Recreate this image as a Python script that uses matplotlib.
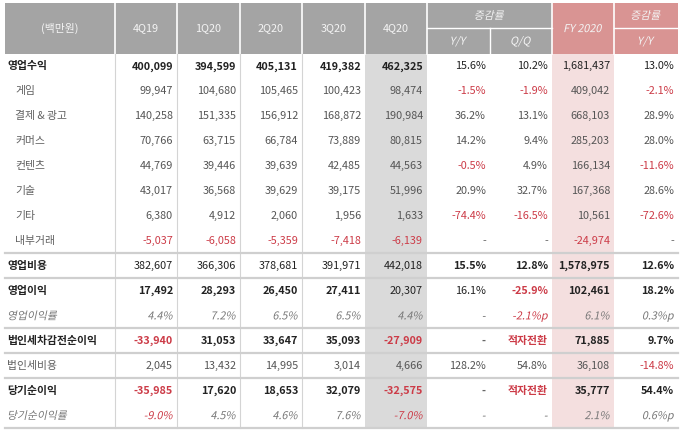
import matplotlib
matplotlib.use('Agg')
import matplotlib.pyplot as plt
from matplotlib.patches import Rectangle, PathPatch
from matplotlib.textpath import TextPath
from matplotlib.font_manager import FontProperties
from matplotlib.transforms import Affine2D

plt.rcParams['font.family'] = ['Noto Sans CJK KR', 'DejaVu Sans']

# ---- data ----
quarters = ['4Q19', '1Q20', '2Q20', '3Q20', '4Q20']
row_labels = ['영업수익', '게임', '결제 & 광고', '커머스', '컨텐츠', '기술', '기타', '내부거래',
              '영업비용', '영업이익', '영업이익률', '법인세차감전순이익', '법인세비용',
              '당기순이익', '당기순이익률']
q_4q19 = ['400,099', '99,947', '140,258', '70,766', '44,769', '43,017', '6,380', '-5,037',
          '382,607', '17,492', '4.4%', '-33,940', '2,045', '-35,985', '-9.0%']
q_1q20 = ['394,599', '104,680', '151,335', '63,715', '39,446', '36,568', '4,912', '-6,058',
          '366,306', '28,293', '7.2%', '31,053', '13,432', '17,620', '4.5%']
q_2q20 = ['405,131', '105,465', '156,912', '66,784', '39,639', '39,629', '2,060', '-5,359',
          '378,681', '26,450', '6.5%', '33,647', '14,995', '18,653', '4.6%']
q_3q20 = ['419,382', '100,423', '168,872', '73,889', '42,485', '39,175', '1,956', '-7,418',
          '391,971', '27,411', '6.5%', '35,093', '3,014', '32,079', '7.6%']
q_4q20 = ['462,325', '98,474', '190,984', '80,815', '44,563', '51,996', '1,633', '-6,139',
          '442,018', '20,307', '4.4%', '-27,909', '4,666', '-32,575', '-7.0%']
yoy = ['15.6%', '-1.5%', '36.2%', '14.2%', '-0.5%', '20.9%', '-74.4%', '-',
       '15.5%', '16.1%', '-', '-', '128.2%', '-', '-']
qoq = ['10.2%', '-1.9%', '13.1%', '9.4%', '4.9%', '32.7%', '-16.5%', '-',
       '12.8%', '-25.9%', '-2.1%p', '적자전환', '54.8%', '적자전환', '-']
fy2020 = ['1,681,437', '409,042', '668,103', '285,203', '166,134', '167,368', '10,561', '-24,974',
          '1,578,975', '102,461', '6.1%', '71,885', '36,108', '35,777', '2.1%']
fy_yoy = ['13.0%', '-2.1%', '28.9%', '28.0%', '-11.6%', '28.6%', '-72.6%', '-',
          '12.6%', '18.2%', '0.3%p', '9.7%', '-14.8%', '54.4%', '0.6%p']

columns = [q_4q19, q_1q20, q_2q20, q_3q20, q_4q20, yoy, qoq, fy2020, fy_yoy]

# row kind: b = bold main, s = sub item, g = plain gray, i = italic ratio
row_kind = ['b', 's', 's', 's', 's', 's', 's', 's', 'b', 'b', 'i', 'b', 'g', 'b', 'i']
# per-cell weight inside bold rows (B bold, n normal)
bold_mask = {0: 'BBBBBnnnn', 8: 'nnnnnBBBB', 9: 'BBBBnnBBB', 11: 'BBBBBBBBB', 13: 'BBBBBBBBB'}

# ---- layout ----
edges = [5, 115, 177, 240, 302, 365, 427, 490, 552, 614, 678]
head_top, head_mid, head_bot = 3, 28, 54
row_h = (428 - head_bot) / len(row_labels)

gray_head = '#a4a4a4'
pink_head = '#d99493'
gray_body = '#dadada'
pink_body = '#f4dfdf'
red = '#cc3b47'

fig = plt.figure(figsize=(6.8, 4.33), dpi=100)
ax = fig.add_axes([0, 0, 1, 1])
ax.set_xlim(0, 680)
ax.set_ylim(433, 0)
ax.axis('off')

fs = 7.8
px = fs * 100 / 72


def italic_text(x, y, s, color, ha='left', weight='normal'):
    # Noto CJK has no italic face, so slant the glyph outlines by hand
    fp = FontProperties(family='Noto Sans CJK KR', weight=weight)
    tp = TextPath((0, 0), s, size=px, prop=fp)
    w = tp.get_extents().x1
    if ha == 'right':
        x0 = x - w - 1
    elif ha == 'center':
        x0 = x - w / 2 - 1
    else:
        x0 = x
    tr = Affine2D().skew_deg(12, 0).scale(1, -1).translate(x0, y + 3.6)
    ax.add_patch(PathPatch(tr.transform_path(tp), facecolor=color, lw=0))


# header backgrounds
ax.add_patch(Rectangle((edges[0], head_top), edges[8] - edges[0], head_bot - head_top,
                       color=gray_head, lw=0))
ax.add_patch(Rectangle((edges[8], head_top), edges[10] - edges[8], head_bot - head_top,
                       color=pink_head, lw=0))
# body shading
ax.add_patch(Rectangle((edges[5], head_bot), edges[6] - edges[5], 428 - head_bot,
                       color=gray_body, lw=0))
ax.add_patch(Rectangle((edges[8], head_bot), edges[9] - edges[8], 428 - head_bot,
                       color=pink_body, lw=0))

# header separators
for i in range(1, 10):
    if i == 7:
        ax.plot([edges[i], edges[i]], [head_mid, head_bot], color='white', lw=1.0)
    else:
        ax.plot([edges[i], edges[i]], [head_top, head_bot], color='white', lw=1.2)
ax.plot([edges[6], edges[8]], [head_mid, head_mid], color='white', lw=1.0)
ax.plot([edges[9], edges[10]], [head_mid, head_mid], color='white', lw=1.0)

# header text
hc = '#f4f4f4'
ax.text((edges[0] + edges[1]) / 2, (head_top + head_bot) / 2, '(백만원)', color=hc,
        fontsize=fs, ha='center', va='center')
for i, q in enumerate(quarters):
    ax.text((edges[i + 1] + edges[i + 2]) / 2, (head_top + head_bot) / 2, q, color=hc,
            fontsize=fs, ha='center', va='center')
italic_text((edges[6] + edges[8]) / 2, (head_top + head_mid) / 2, '증감률', hc, 'center')
italic_text((edges[6] + edges[7]) / 2, (head_mid + head_bot) / 2, 'Y/Y', hc, 'center')
italic_text((edges[7] + edges[8]) / 2, (head_mid + head_bot) / 2, 'Q/Q', hc, 'center')
italic_text((edges[8] + edges[9]) / 2, (head_top + head_bot) / 2, 'FY 2020', hc, 'center')
italic_text((edges[9] + edges[10]) / 2, (head_top + head_mid) / 2, '증감률', hc, 'center')
italic_text((edges[9] + edges[10]) / 2, (head_mid + head_bot) / 2, 'Y/Y', hc, 'center')

# body grid
for i in range(1, 5):
    ax.plot([edges[i], edges[i]], [head_bot, 428], color='#d4d4d4', lw=0.8)
for r in (8, 9, 11, 12, 13, 15):
    y = head_bot + r * row_h
    ax.plot([edges[0], edges[10]], [y, y], color='#cfcfcf', lw=1.6)

# body text
for r, label in enumerate(row_labels):
    y = head_bot + (r + 0.5) * row_h
    kind = row_kind[r]
    if kind == 'b':
        ax.text(7, y, label, fontsize=fs, ha='left', va='center', color='#222222',
                weight='bold')
    elif kind == 's':
        ax.text(15, y, label, fontsize=fs, ha='left', va='center', color='#606060')
    elif kind == 'g':
        ax.text(7, y, label, fontsize=fs, ha='left', va='center', color='#606060')
    else:
        italic_text(7, y, label, '#777777')
    for c, col in enumerate(columns):
        val = col[r]
        x = edges[c + 2] - 4
        if val == '-':
            color = '#666666'
        elif val.startswith('-') or val == '적자전환':
            color = red
        else:
            color = '#222222' if kind == 'b' else ('#777777' if kind == 'i' else '#555555')
        weight = 'normal'
        if kind == 'b' and bold_mask.get(r, 'BBBBBBBBB')[c] == 'B':
            weight = 'bold'
        if kind == 'i':
            italic_text(x, y, val, color, 'right')
        else:
            ax.text(x, y, val, fontsize=fs, ha='right', va='center', color=color,
                    weight=weight)

fig.savefig('out.png', dpi=100)
